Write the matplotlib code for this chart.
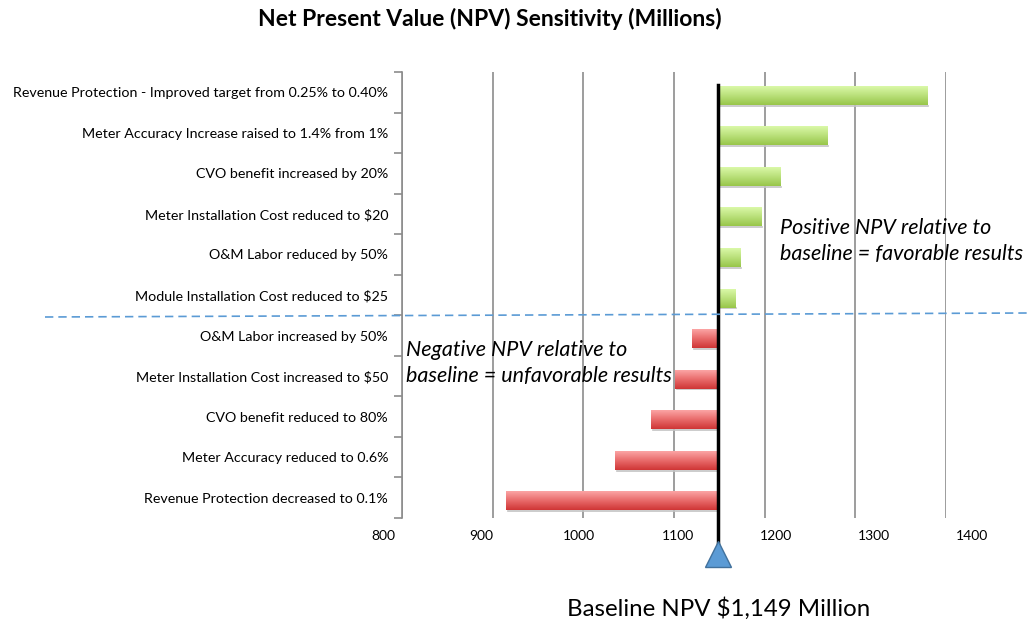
import numpy as np
import matplotlib
matplotlib.use("Agg")
import matplotlib.pyplot as plt
import matplotlib.transforms as mtransforms

plt.rcParams['font.family'] = ['Lato', 'DejaVu Sans']

# data (top to bottom)
labels = ["Revenue Protection - Improved target from 0.25% to 0.40%",
          "Meter Accuracy Increase raised to 1.4% from 1%",
          "CVO benefit increased by 20%",
          "Meter Installation Cost reduced to $20",
          "O&M Labor reduced by 50%",
          "Module Installation Cost reduced to $25",
          "O&M Labor increased by 50%",
          "Meter Installation Cost increased to $50",
          "CVO benefit reduced to 80%",
          "Meter Accuracy reduced to 0.6%",
          "Revenue Protection decreased to 0.1%"]
npv = [1380, 1270, 1218, 1197, 1174, 1168, 1120, 1101, 1075, 1035, 915]
baseline = 1149
xticks = [800, 900, 1000, 1100, 1200, 1300, 1400]

fig = plt.figure(figsize=(10.27, 6.29), dpi=100)
ax = fig.add_axes([0.3914, 0.1765, 0.5297, 0.709])

n = len(labels)
ypos = np.arange(n)[::-1]
green = plt.matplotlib.colors.LinearSegmentedColormap.from_list("g", ["#98c64a", "#b9e07a", "#daf8a8"])
red = plt.matplotlib.colors.LinearSegmentedColormap.from_list("r", ["#cf3636", "#e86a6a", "#fba4a4"])
grad = np.linspace(0, 1, 50).reshape(-1, 1)
h = 0.46
for y, v in zip(ypos, npv):
    x0, x1 = min(v, baseline), max(v, baseline)
    cm = green if v >= baseline else red
    ax.imshow(grad, cmap=cm, aspect='auto', origin='lower',
              extent=[x0, x1, y - h / 2 - 0.08, y + h / 2 - 0.08], zorder=3)
    # small shadow
    ax.plot([x0 + 2, x1], [y - h / 2 - 0.1, y - h / 2 - 0.1], color='#c4c4c4', lw=1.2, zorder=2)

ax.set_xlim(800, 1400)
ax.set_ylim(-0.5, n - 0.5)

for x in xticks:
    ax.axvline(x, color='#8c8c8c', lw=1.2, zorder=1)

ax.set_yticks(ypos)
ax.set_yticklabels(labels, fontsize=10.3)
ax.tick_params(axis='y', length=0, pad=10)
ax.set_yticks(np.arange(-0.5, n, 1), minor=True)
ax.tick_params(axis='y', which='minor', length=6, color='#8c8c8c', width=1.2)
ax.set_xticks(xticks)
ax.tick_params(axis='x', length=0, labelbottom=False)
for s in ['top', 'right', 'bottom']:
    ax.spines[s].set_visible(False)
ax.spines['left'].set_color('#8c8c8c')
ax.spines['left'].set_linewidth(1.2)

# tick labels drawn with a slight perspective offset, like the original
trans = mtransforms.blended_transform_factory(ax.transData, ax.transAxes)
for t in xticks:
    ax.text(779 + 1.083 * (t - 800), -0.04, str(t), transform=trans, fontsize=10,
            ha='center', va='center', clip_on=False)

# baseline line
ax.plot([baseline, baseline], [-1.2, n - 0.82], color='black', lw=2.5,
        zorder=5, clip_on=False)
ax.plot([baseline], [-1.4], marker='^', markersize=19, color='#5b9bd5',
        markeredgecolor='#41719c', clip_on=False, zorder=5)

# divider between favourable / unfavourable
fig.add_artist(plt.Line2D([45 / 1027, 1.0], [1 - 317 / 629, 1 - 313 / 629],
                          color='#5b9bd5', lw=1.2, ls=(0, (5, 3))))

ax.text(1217, 6.33, "Positive NPV relative to\nbaseline = favorable results",
        fontsize=15.5, style='italic', va='center', ha='left', linespacing=1.4, zorder=6)
ax.text(804, 3.33, "Negative NPV relative to\nbaseline = unfavorable results",
        fontsize=15.5, style='italic', va='center', ha='left', linespacing=1.4, zorder=6)

fig.text(0.477, 0.97, "Net Present Value (NPV) Sensitivity (Millions)",
         fontsize=16.5, fontweight='bold', ha='center', va='center')
fig.text(0.70, 0.032, "Baseline NPV $1,149 Million", fontsize=17.3, ha='center', va='center')

fig.savefig("out.png", dpi=100)
